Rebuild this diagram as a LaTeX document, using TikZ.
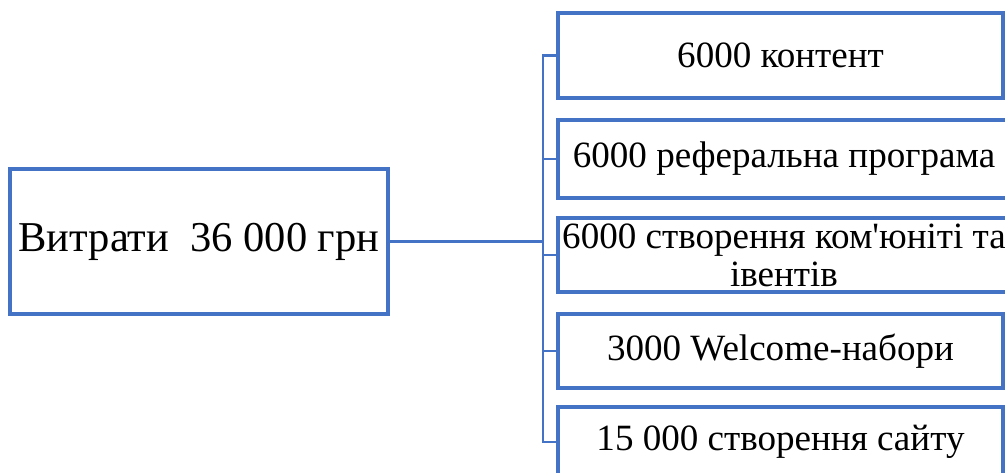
\documentclass[tikz,border=0pt]{standalone}
\usepackage{fontspec}
\setmainfont{Liberation Serif}
\definecolor{wblue}{HTML}{4472C4}
\tikzset{
  box/.style={draw=wblue, line width=2.5pt, fill=white, inner sep=0pt, align=center, text=black, font=\rmfamily\fontsize{27.8}{28.5}\selectfont},
  conn/.style={draw=wblue, line width=2.2pt},
}
\begin{document}
\begin{tikzpicture}[x=0.75pt,y=-0.75pt]
\useasboundingbox (0,0) rectangle (1005,473);
\clip (0,0) rectangle (1005,473);
\coordinate (bus) at (543,0);
\node[box, minimum width=283.5pt, minimum height=108.75pt, font=\rmfamily\fontsize{31.9}{36}\selectfont] (L) at (199,241.5) {Витрати\ \ 36 000 грн};
\node[box, minimum width=333.75pt, minimum height=63.75pt] (b1) at (780.5,55.5) {6000 контент};
\node[box, minimum width=339pt, minimum height=58.5pt] (b2) at (784,159) {6000 реферальна програма};
\node[box, minimum width=339pt, minimum height=55.5pt] (b3) at (784,255) {6000 створення ком\textquotesingle юніті та\\івентів};
\node[box, minimum width=333.75pt, minimum height=55.5pt] (b4) at (780.5,351) {3000 Welcome-набори};
\node[box, minimum width=333.75pt, minimum height=52.5pt] (b5) at (780.5,442) {15 000 створення сайту};
\draw[conn] (L.east) -- (L.east -| bus);
\draw[conn] (b1.west) -- (b1.west -| bus) -- (b5.west -| bus) -- (b5.west);
\draw[conn] (b2.west) -- (b2.west -| bus);
\draw[conn] (b3.west) -- (b3.west -| bus);
\draw[conn] (b4.west) -- (b4.west -| bus);
\end{tikzpicture}
\end{document}
